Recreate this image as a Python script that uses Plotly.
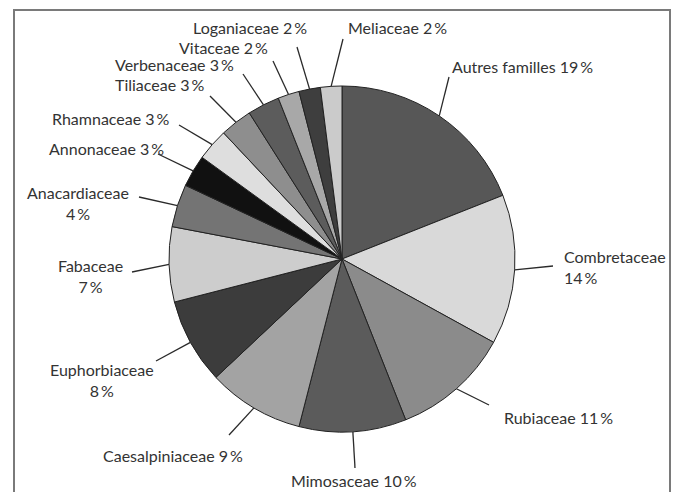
import math

import plotly.graph_objects as go

# data: share of species by family (%), clockwise from 12 o'clock
families = [
    "Autres familles", "Combretaceae", "Rubiaceae", "Mimosaceae", "Caesalpiniaceae",
    "Euphorbiaceae", "Fabaceae", "Anacardiaceae", "Annonaceae", "Rhamnaceae",
    "Tiliaceae", "Verbenaceae", "Vitaceae", "Loganiaceae", "Meliaceae",
]
shares = [19, 14, 11, 10, 9, 8, 7, 4, 3, 3, 3, 3, 2, 2, 2]
slice_colors = [
    "#575757", "#d9d9d9", "#8b8b8b", "#5b5b5b", "#a3a3a3",
    "#3c3c3c", "#cdcdcd", "#747474", "#111111", "#dedede",
    "#8e8e8e", "#5c5c5c", "#a8a8a8", "#3e3e3e", "#cbcbcb",
]
# label line breaks (True -> name and value on two lines)
two_line = [False, True, False, False, False, True, True, True,
            False, False, False, False, False, False, False]

# layout (pixels)
W, H = 676, 492
CX, CY, R = 342, 259, 173
FONT = dict(family="Lato, 'Noto Sans', sans-serif", size=16, color="#333333")

# text anchor (x, y, xanchor) and outer end of leader line, per family
label_pos = [
    (450, 66, "left"), (562, 267, "left"), (502, 417, "left"), (354, 480, "center"),
    (173, 455, "center"), (102, 380, "center"), (90, 276, "center"), (78, 203, "center"),
    (166, 148, "right"), (172, 118, "right"), (207, 84, "right"), (236, 65, "right"),
    (270, 47, "right"), (309, 28, "right"), (346, 28, "left"),
]
leader_end = [
    (449, 77), (553, 266), (489, 405), (355, 468), (229, 435), (156, 361), (132, 272),
    (139, 197), (158, 154), (179, 125), (210, 96), (243, 74), (273, 61), (297, 47), (343, 39),
]


def px(x):
    return x / W


def py(y):
    return 1 - y / H


fig = go.Figure(go.Pie(
    labels=families,
    values=shares,
    sort=False,
    direction="clockwise",
    rotation=0,
    textinfo="none",
    hoverinfo="label+percent",
    marker=dict(colors=slice_colors, line=dict(color="#222222", width=1)),
    domain=dict(x=[px(CX - R), px(CX + R)], y=[py(CY + R), py(CY - R)]),
    showlegend=False,
))

total = sum(shares)
cum = 0
shapes = []
annotations = []
for name, val, split, (tx, ty, anchor), (ex, ey) in zip(
        families, shares, two_line, label_pos, leader_end):
    mid = (cum + val / 2) / total * 2 * math.pi
    cum += val
    ix = CX + R * math.sin(mid)
    iy = CY - R * math.cos(mid)
    shapes.append(dict(type="line", xref="paper", yref="paper",
                       x0=px(ix), y0=py(iy), x1=px(ex), y1=py(ey),
                       line=dict(color="#2a2a2a", width=1.3)))
    sep = "<br>" if split else " "
    annotations.append(dict(text=f"{name}{sep}{val}\u2009%", x=px(tx), y=py(ty),
                            xref="paper", yref="paper", xanchor=anchor, yanchor="middle",
                            align=anchor, showarrow=False, font=FONT))

# frame (top, left, right)
frame = dict(color="#7a7a7a", width=2)
shapes += [
    dict(type="line", xref="paper", yref="paper", x0=px(13), y0=py(10), x1=px(671), y1=py(10), line=frame),
    dict(type="line", xref="paper", yref="paper", x0=px(14), y0=py(10), x1=px(14), y1=py(500), line=frame),
    dict(type="line", xref="paper", yref="paper", x0=px(670), y0=py(10), x1=px(670), y1=py(500), line=frame),
]

fig.update_layout(
    width=W,
    height=H,
    margin=dict(l=0, r=0, t=0, b=0),
    paper_bgcolor="white",
    plot_bgcolor="white",
    shapes=shapes,
    annotations=annotations,
)

fig.write_html("out.html", config={"displayModeBar": False},
               post_script="document.body.style.margin = '0';")
